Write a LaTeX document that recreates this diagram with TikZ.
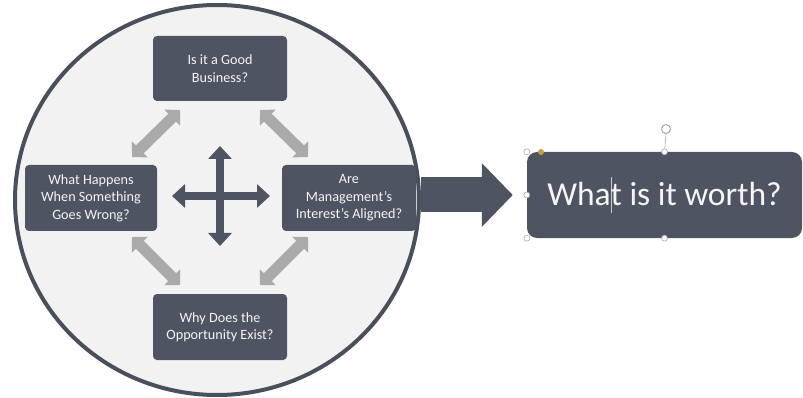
\documentclass[tikz,border=0pt]{standalone}
\usepackage{fontspec}
\setmainfont{Carlito}
\usetikzlibrary{arrows.meta,shapes.geometric}
\definecolor{slate}{RGB}{79,84,98}
\definecolor{ringfill}{RGB}{242,242,242}
\definecolor{ringline}{RGB}{74,79,92}
\definecolor{lightarrow}{RGB}{170,170,170}
\definecolor{boxtext}{RGB}{245,245,245}
\definecolor{handleline}{RGB}{170,170,170}
\definecolor{adjust}{RGB}{196,160,60}
\begin{document}
\begin{tikzpicture}[x=1pt,y=-1pt,
  qbox/.style={draw=none, fill=slate, rounded corners=4pt, text=boxtext, align=center,
    font=\fontsize{14.2}{17.5}\selectfont, inner sep=0pt},
  grayarrow/.style={draw=lightarrow, line width=11pt,
    {Triangle[width=22pt,length=11pt]}-{Triangle[width=22pt,length=11pt]}},
  crossarrow/.style={draw=slate, line width=8pt,
    {Triangle[width=23pt,length=13pt]}-{Triangle[width=23pt,length=13pt]}},
  handle/.style={circle, draw=handleline, fill=white, line width=0.6pt, minimum size=6pt, inner sep=0pt}]
\useasboundingbox (0,0) rectangle (803,398);
% ring
\node[ellipse, draw=ringline, fill=ringfill, line width=4pt, minimum width=404pt,
  minimum height=390pt, inner sep=0pt] (ring) at (217,200) {};
% question boxes
\node[qbox, minimum width=134pt, minimum height=65pt] (good) at (220,68.5) {Is it a Good\\Business?};
\node[qbox, minimum width=132pt, minimum height=66pt] (wrong) at (91,198) {What Happens\\When Something\\Goes Wrong?};
\node[qbox, minimum width=134pt, minimum height=66pt] (mgmt) at (349,198) {Are\\Management’s\\Interest’s Aligned?};
\node[qbox, minimum width=134pt, minimum height=66pt] (opp) at (220,327) {Why Does the\\Opportunity Exist?};
% gray double arrows
\coordinate (tla) at (180,110); \coordinate (tlb) at (132,157);
\coordinate (tra) at (260,110); \coordinate (trb) at (308,157);
\coordinate (bla) at (132,237); \coordinate (blb) at (180,285);
\coordinate (bra) at (308,237); \coordinate (brb) at (260,285);
\draw[grayarrow] (tla) -- (tlb);
\draw[grayarrow] (tra) -- (trb);
\draw[grayarrow] (bla) -- (blb);
\draw[grayarrow] (bra) -- (brb);
% central cross
\coordinate (ch1) at (172,196); \coordinate (ch2) at (270,196);
\coordinate (cv1) at (220,146); \coordinate (cv2) at (220,246);
\draw[crossarrow] (ch1) -- (ch2);
\draw[crossarrow] (cv1) -- (cv2);
% result box
\node[fill=slate, rounded corners=10pt, minimum width=275pt, minimum height=86pt, inner sep=0pt,
  text=boxtext, font=\fontsize{33.5}{38}\selectfont] (worth) at (664.5,195)
  {Wha\rlap{\hspace{0.3pt}\textcolor{boxtext!75!slate}{\rule[-0.2em]{0.6pt}{1.05em}}}t is it worth?};
% big arrow
\draw[draw=slate, line width=35pt, -{Triangle[width=62pt,length=31pt]}, shorten >=14pt]
  (ring.east |- worth.west) -- (worth.west);
% selection decorations
\node[circle, draw=handleline, line width=1pt, minimum size=9pt, inner sep=0pt] (rot) at (666,129) {};
\draw[handleline, line width=0.6pt] (rot.south) -- (worth.north);
\node[handle] (h1) at (worth.north west) {};
\node[handle] (h2) at (worth.west) {};
\node[handle] (h3) at (worth.south west) {};
\node[handle] (h4) at (worth.north) {};
\node[handle] (h5) at (worth.south) {};
\node[circle, fill=adjust, minimum size=6pt, inner sep=0pt] (adj) at (541,152) {};
\end{tikzpicture}
\end{document}
